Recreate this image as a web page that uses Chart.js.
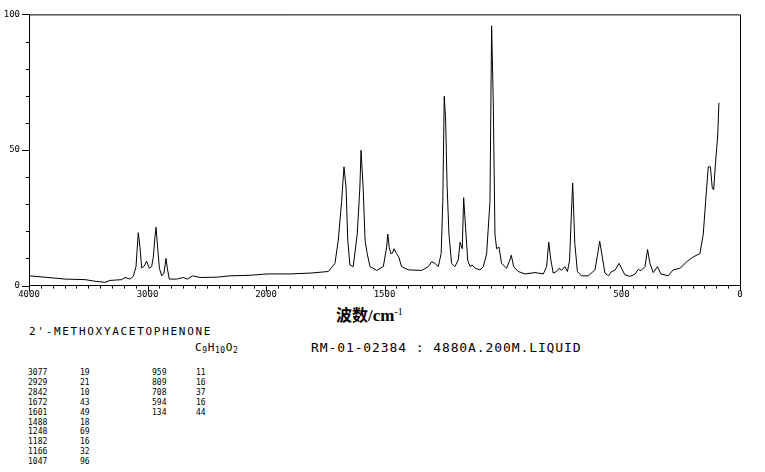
<!DOCTYPE html>
<html>
<head>
<meta charset="utf-8">
<script src="https://cdn.jsdelivr.net/npm/chart.js@4/dist/chart.umd.min.js"></script>
<style>
  html, body { margin: 0; padding: 0; background: #fff; }
  body { width: 765px; height: 472px; position: relative; overflow: hidden; font-family: "DejaVu Sans Mono", monospace; color: #000; }
  #spec { position: absolute; left: 0; top: 0; }
  .t { position: absolute; white-space: pre; }
  #xtitle { left: 336px; top: 302px; font: bold 17px "Liberation Serif", "Noto Sans CJK SC", serif; }
  #xtitle .cjk { font-family: "Noto Sans CJK SC", sans-serif; font-weight: bold; font-size: 16px; }
  #xtitle sup { font-size: 10px; font-weight: normal; vertical-align: 6px; }
  #name { left: 29px; top: 325px; font-size: 11px; letter-spacing: 1.7px; }
  #formula { left: 195px; top: 341px; font-size: 11px; letter-spacing: 0.6px; }
  #formula sub { font-size: 8px; vertical-align: -2px; }
  #sample { left: 311px; top: 340px; font-size: 13px; letter-spacing: 0.9px; }
  .tab { position: absolute; top: 368px; font-size: 8px; line-height: 9.9px; }
</style>
</head>
<body>
<canvas id="spec" width="765" height="300"></canvas>
<div class="t" id="xtitle"><span class="cjk">波数</span>/cm<sup>-1</sup></div>
<div class="t" id="name">2'-METHOXYACETOPHENONE</div>
<div class="t" id="formula">C<sub>9</sub>H<sub>10</sub>O<sub>2</sub></div>
<div class="t" id="sample">RM-01-02384 : 4880A.200M.LIQUID</div>
<div class="tab" id="col1" style="left:28px"></div>
<div class="tab" id="col2" style="left:80px"></div>
<div class="tab" id="col3" style="left:152px"></div>
<div class="tab" id="col4" style="left:196px"></div>
<script>
// Raman spectrum (wavenumber cm-1, relative intensity)
const wavenumbers = [
  4000, 3865, 3696, 3527, 3443, 3359, 3316, 3218, 3190, 3148, 3120, 3097, 3078, 3063, 3049, 3027, 3007, 2985,
  2965, 2951, 2937, 2928, 2917, 2900, 2880, 2861, 2844, 2833, 2816, 2754, 2698, 2664, 2619, 2557, 2416, 2304,
  2135, 1997, 1899, 1814, 1737, 1709, 1695, 1681, 1671, 1662, 1655, 1646, 1632, 1615, 1604, 1599, 1590, 1582,
  1573, 1561, 1533, 1505, 1491, 1486, 1480, 1473, 1466, 1460, 1449, 1440, 1428, 1400, 1343, 1315, 1301, 1287,
  1273, 1261, 1254, 1248, 1242, 1236, 1228, 1217, 1203, 1189, 1181, 1172, 1166, 1158, 1149, 1139, 1130, 1118,
  1097, 1083, 1069, 1055, 1048, 1041, 1034, 1027, 1017, 1006, 985, 971, 965, 955, 936, 907, 865, 830,
  816, 807, 798, 788, 774, 763, 753, 739, 728, 719, 711, 706, 697, 686, 669, 640, 612, 598,
  592, 581, 570, 555, 542, 528, 510, 500, 486, 464, 443, 429, 418, 401, 390, 380, 366, 348,
  334, 303, 282, 253, 225, 197, 169, 155, 145, 134, 125, 117, 111, 103, 94, 89
];
const intensities = [
  3.6, 3.1, 2.4, 2.2, 1.6, 1.2, 1.9, 2.2, 3.0, 2.4, 3.4, 7, 19.5, 14, 6.5, 7.2, 9, 6.4,
  7, 10.5, 17.9, 21.5, 15.5, 6.4, 3.6, 4.6, 10, 6.4, 2.4, 2.4, 3.0, 2.4, 3.6, 3.0, 3.1, 3.6,
  3.8, 4.3, 4.3, 4.6, 5.2, 8.2, 16.7, 31, 43.8, 36, 16.7, 7.6, 7.0, 19, 36, 49.9, 36, 16.7,
  11.8, 7, 5.6, 7, 14.2, 19, 14, 11.8, 12, 13.6, 11.8, 10.6, 7, 5.8, 5.6, 7, 8.8, 8.2,
  7, 11.8, 31, 69.8, 61, 37, 19, 8.2, 7, 9.4, 16, 13.6, 32.4, 21.5, 9.4, 7, 7.6, 6.4,
  5.8, 7, 11.8, 31, 95.8, 67.4, 19, 13.6, 14.2, 8.2, 6.4, 9.4, 11.2, 7, 5.2, 4.3, 4.8, 4.3,
  7, 16, 9.4, 4.6, 5.2, 6.4, 5.6, 7, 5.2, 9.4, 27.5, 37.8, 15.5, 5.2, 3.6, 3.6, 5.8, 13,
  16.4, 10.6, 4.6, 3.6, 5.2, 5.6, 8.2, 6.4, 4, 3.4, 4.2, 6, 5.5, 7, 13.3, 8.2, 4.8, 7,
  4.3, 3.6, 5.8, 6.4, 8.8, 10.6, 11.8, 19, 31, 43.8, 43.8, 36, 35.3, 45.7, 55.3, 67.4
];

// axis: labelled wavenumbers and y labels
const xTickLabels = [4000, 3000, 2000, 1500, 500, 0];
const yTickLabels = [0, 50, 100];

// peak table printed under the chart
const peakWn1  = [3077, 2929, 2842, 1672, 1601, 1488, 1248, 1182, 1166, 1047];
const peakInt1 = [19, 21, 10, 43, 49, 18, 69, 16, 32, 96];
const peakWn2  = [959, 809, 708, 594, 134];
const peakInt2 = [11, 16, 37, 16, 44];

// The axis is split: 4000-2000 is drawn at half the scale of 2000-0.
// u is a linear plotting coordinate, 0..3000.
const toU   = w => w >= 2000 ? (4000 - w) / 2 : 1000 + (2000 - w);
const fromU = u => u <= 1000 ? 4000 - 2 * u : 3000 - u;

document.getElementById('col1').innerHTML = peakWn1.join('<br>');
document.getElementById('col2').innerHTML = peakInt1.join('<br>');
document.getElementById('col3').innerHTML = peakWn2.join('<br>');
document.getElementById('col4').innerHTML = peakInt2.join('<br>');

const labelU = xTickLabels.map(toU);

// frame (top/right) and the short/long tick marks
const framePlugin = {
  id: 'frame',
  afterDraw(chart) {
    const { ctx, chartArea: a, scales: { x, y } } = chart;
    ctx.save();
    ctx.strokeStyle = '#000';
    ctx.lineWidth = 1;
    ctx.beginPath();
    ctx.moveTo(a.left, a.top + 0.5);
    ctx.lineTo(a.right + 0.5, a.top + 0.5);
    ctx.lineTo(a.right + 0.5, a.bottom);
    x.ticks.forEach(t => {
      const px = Math.round(x.getPixelForValue(t.value)) + 0.5;
      const len = t.label !== '' ? 6 : 3;
      ctx.moveTo(px, a.bottom);
      ctx.lineTo(px, a.bottom + len);
    });
    y.ticks.forEach(t => {
      const py = Math.round(y.getPixelForValue(t.value)) + 0.5;
      const len = t.label !== '' ? 7 : 3;
      ctx.moveTo(a.left, py);
      ctx.lineTo(a.left - len, py);
    });
    ctx.stroke();
    ctx.restore();
  }
};

new Chart(document.getElementById('spec'), {
  type: 'line',
  data: {
    datasets: [{
      data: wavenumbers.map((w, i) => ({ x: toU(w), y: intensities[i] })),
      borderColor: '#000',
      borderWidth: 1,
      pointRadius: 0,
      tension: 0,
      fill: false
    }]
  },
  options: {
    responsive: false,
    animation: false,
    layout: { padding: { top: 10, right: 25, left: 0, bottom: 0 } },
    plugins: { legend: { display: false }, tooltip: { enabled: false } },
    scales: {
      x: {
        type: 'linear', min: 0, max: 3000,
        afterFit: s => { s.height = 14; },
        afterBuildTicks: s => {
          const t = [];
          for (let u = 0; u <= 3000; u += 50) t.push({ value: u });
          s.ticks = t;
        },
        ticks: {
          autoSkip: false, maxRotation: 0, padding: 4, color: '#000',
          font: { family: 'DejaVu Sans Mono', size: 9 },
          callback: v => labelU.includes(v) ? String(fromU(v)) : ''
        },
        grid: { display: false, drawTicks: false },
        border: { display: true, color: '#000', width: 1 }
      },
      y: {
        min: 0, max: 100,
        afterFit: s => { s.width = 29; },
        ticks: {
          stepSize: 10, padding: 9, color: '#000',
          font: { family: 'DejaVu Sans Mono', size: 9 },
          callback: v => yTickLabels.includes(v) ? String(v) : ''
        },
        grid: { display: false, drawTicks: false },
        border: { display: true, color: '#000', width: 1 }
      }
    }
  },
  plugins: [framePlugin]
});
</script>
</body>
</html>
